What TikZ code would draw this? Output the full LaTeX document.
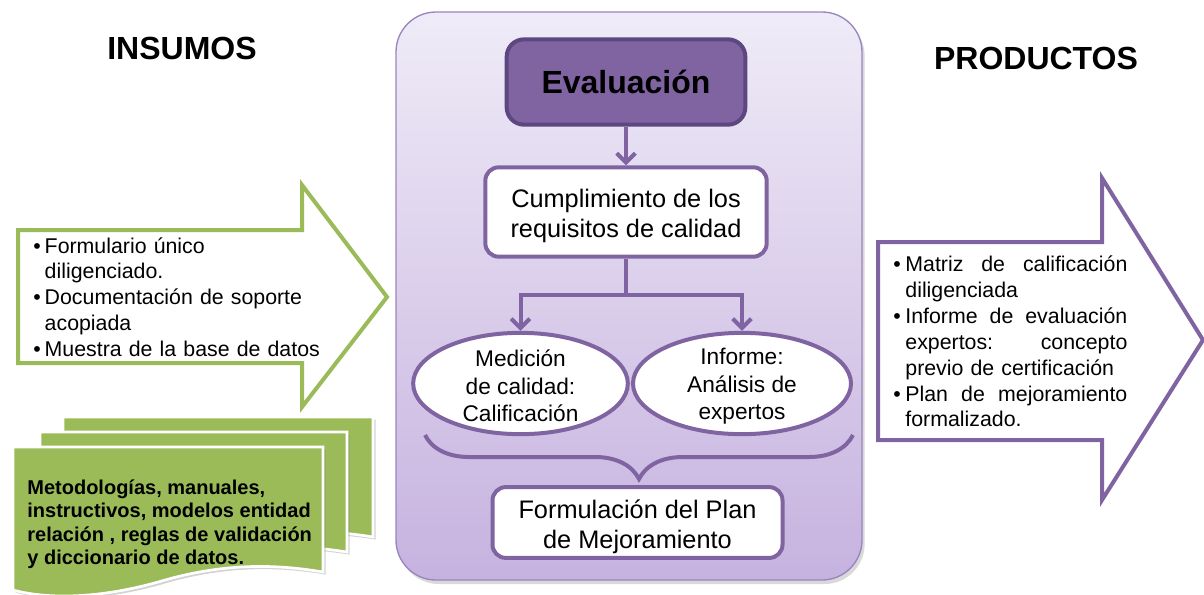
\documentclass[tikz,border=0pt]{standalone}
\usepackage{fontspec}
\setmainfont{Liberation Sans}
\usetikzlibrary{arrows.meta,shapes.geometric,shadows,decorations.pathreplacing}
\definecolor{lila}{HTML}{8064A2}
\definecolor{lilaDark}{HTML}{5C4780}
\definecolor{lilaTop}{HTML}{EFEBF7}
\definecolor{lilaBottom}{HTML}{C6B2DF}
\definecolor{lilaLine}{HTML}{9A84C0}
\definecolor{verde}{HTML}{9BBB59}
\newcommand{\bul}[1][8.5pt]{\par\hangindent=#1\hangafter=1\noindent\makebox[#1][l]{\textbullet}\ignorespaces}
\newcommand{\arriba}{\rule{0pt}{20pt}}

\begin{document}
\begin{tikzpicture}[x=0.75pt, y=-0.75pt, semithick]
        \tikzset{
           box/.style={
                        rectangle,
                        rounded corners=10pt,
                        draw=lila,
                        line width=3pt,
                        fill=white,
                        text=black,
                        align=center,
                        font=\fontsize{19}{22.5}\selectfont
                       },
           oval/.style={
                        ellipse,
                        draw=lila,
                        line width=3pt,
                        fill=white
                       },
           ovalText/.style={
                        align=center,
                        inner sep=0pt,
                        yshift=-2pt,
                        font=\fontsize{17}{20.6}\selectfont
                       },
           link/.style={
                        ->,
                        draw=lila,
                        line width=3pt,
                        >={Straight Barb[length=7pt,width=14pt]}
                       },
           title/.style={font=\fontsize{24}{28}\selectfont\bfseries},
           doc/.style={
                        fill=verde,
                        draw=white,
                        line width=2pt,
                        drop shadow={shadow xshift=2pt, shadow yshift=-2pt, opacity=0.35}
                       },
           lista/.style={
                        anchor=west,
                        inner sep=0pt,
                        font=\fontsize{16}{19.4}\selectfont
                       },
                 };
        \useasboundingbox (0,0) rectangle (1204,594);
        %----------------
        \path[draw=lilaLine, line width=1pt, rounded corners=30pt,
              top color=lilaTop, bottom color=lilaBottom,
              drop shadow={shadow xshift=2pt, shadow yshift=-3pt, opacity=0.3}]
              (396,12) rectangle (862,580);
        \draw[draw=verde, line width=3pt, fill=white]
              (18,230) -- (302,230) -- (302,185) -- (387,297) -- (302,407) -- (302,363) -- (18,363) -- cycle;
        \draw[draw=lila, line width=3pt, fill=white]
              (878,242) -- (1102,242) -- (1102,178) -- (1203,340) -- (1102,500) -- (1102,440) -- (878,440) -- cycle;
        \path[doc] (63,417) -- (373,417) -- (373,537) .. controls (320,528) and (260,530) .. (210,545)
              .. controls (150,560) and (100,560) .. (63,550) -- cycle;
        \path[doc] (40,432) -- (347,432) -- (347,552) .. controls (290,543) and (240,545) .. (190,560)
              .. controls (130,578) and (80,578) .. (40,566) -- cycle;
        \path[doc] (13,447) -- (323,447) -- (323,572) .. controls (265,562) and (215,566) .. (165,580)
              .. controls (105,598) and (50,600) .. (13,590) -- cycle;
        %----------------
        \node[title] (insumos) at (182,48) {INSUMOS};
        \node[title] (productos) at (1036,58) {PRODUCTOS};
        \node[box, fill=lila, draw=lilaDark, rounded corners=13pt, minimum width=179pt, minimum height=64pt,
              font=\fontsize{24}{28}\selectfont\bfseries] (evaluacion) at (626,82) {Evaluación};
        \node[box, minimum width=211pt, minimum height=67pt] (cumplimiento) at (626,212) {\arriba Cumplimiento de los\\requisitos de calidad};
        \node[oval, minimum width=161pt, minimum height=76pt,
              label={[ovalText]center:Medición\\de calidad:\\Calificación}] (medicion) at (520.5,383.5) {};
        \node[oval, minimum width=163.5pt, minimum height=76pt,
              label={[ovalText]center:Informe:\\Análisis de\\expertos}] (informe) at (742,383.5) {};
        \node[box, minimum width=217.5pt, minimum height=52.5pt] (formulacion) at (637.5,522.5) {\arriba Formulación del Plan\\de Mejoramiento};
        \node[lista, text width=250pt] (insumosLista) at (33,292) {%
              \bul Formulario único\newline diligenciado.
              \bul Documentación de soporte\newline acopiada
              \bul Muestra de la base de datos\par};
        \node[lista, text width=175.5pt] (productosLista) at (893,336.5) {%
              \bul[9pt] Matriz \hfill de \hfill calificación\newline diligenciada
              \bul[9pt] Informe \hfill de \hfill evaluación\newline expertos: \hfill concepto\newline previo de certificación
              \bul[9pt] Plan \hfill de \hfill mejoramiento\newline formalizado.\par};
        \node[anchor=west, align=left, inner sep=0pt, font=\fontsize{15}{17.6}\selectfont\bfseries] (metodologias) at (27,524)
              {Metodologías, manuales,\\instructivos, modelos entidad\\relación , reglas de validación\\y diccionario de datos.};
        %----------------
        \coordinate (split) at (626,295);
        \coordinate (braceLeft) at (425,435);
        \coordinate (braceRight) at (853,435);
        \draw[link] (evaluacion) -- (cumplimiento);
        \draw[draw=lila, line width=3pt] (cumplimiento) -- (split);
        \draw[link] (split) -| (medicion.north);
        \draw[link] (split) -| (informe.north);
        \draw[draw=lila, line width=3pt, decorate, decoration={brace, amplitude=33pt, mirror}] (braceLeft) -- (braceRight);
    \end{tikzpicture}
\end{document}
